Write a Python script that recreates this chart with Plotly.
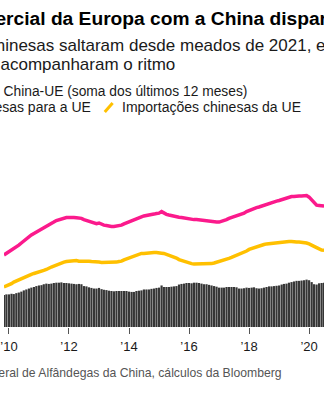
import numpy as np
import pandas as pd
import plotly.graph_objects as go

# ---------------- data (USD bn, 12-month rolling sums) ----------------
START_MONTH = "2009-11-01"

exports_bn = [
    234, 239, 244, 249, 253, 260, 266, 273, 280, 286, 292, 299,
    304, 309, 314, 318, 323, 328, 332, 336, 341, 346, 349, 353,
    354, 356, 356, 357, 356, 355, 354, 353, 349, 346, 343, 340,
    338, 336, 338, 333, 331, 330, 328, 327, 327, 328, 330, 331,
    335, 338, 341, 343, 346, 351, 354, 358, 361, 362, 364, 366,
    367, 369, 370, 375, 369, 366, 364, 362, 359, 357, 357, 356,
    354, 353, 351, 348, 349, 349, 348, 346, 344, 344, 343, 341,
    341, 341, 341, 343, 346, 349, 353, 356, 359, 361, 362, 366,
    370, 375, 379, 383, 387, 388, 390, 393, 396, 400, 403, 405,
    408, 409, 411, 414, 416, 419, 422, 424, 424, 426, 426, 426,
    427, 427, 422, 413, 401, 396, 395, 393, 393,
]

imports_bn = [
    130, 133, 138, 141, 146, 150, 154, 158, 161, 164, 167, 171,
    174, 176, 179, 182, 184, 187, 192, 195, 198, 202, 205, 208,
    211, 213, 214, 216, 216, 216, 214, 214, 216, 214, 214, 213,
    213, 211, 211, 210, 210, 210, 210, 210, 211, 211, 213, 214,
    218, 221, 226, 229, 232, 234, 236, 239, 239, 240, 242, 242,
    242, 242, 242, 240, 239, 236, 234, 231, 227, 224, 219, 216,
    213, 210, 208, 206, 205, 205, 205, 205, 205, 205, 206, 206,
    208, 210, 213, 215, 218, 219, 223, 226, 229, 232, 237, 241,
    244, 247, 252, 255, 258, 262, 265, 267, 268, 270, 271, 273,
    275, 275, 276, 276, 276, 278, 278, 278, 276, 276, 276, 275,
    275, 273, 270, 267, 262, 258, 253, 250, 249,
]

tick_years = [2010, 2012, 2014, 2016, 2018, 2020]
tick_labels = ["\u201910", "\u201912", "\u201914", "\u201916", "\u201918", "\u201920"]

TITLE = "Déficit comercial da Europa com a China dispara"
SUB_1 = "Exportações chinesas saltaram desde meados de 2021, e as importações"
SUB_2 = "europeias não acompanharam o ritmo"
LEG_BAL = "Balança comercial China-UE (soma dos últimos 12 meses)"
LEG_EXP = "Exportações chinesas para a UE"
LEG_IMP = "Importações chinesas da UE"
SOURCE = "Fonte: Administração Geral de Alfândegas da China, cálculos da Bloomberg"

# ---------------- derived ----------------
months = pd.date_range(START_MONTH, periods=len(exports_bn), freq="MS")
balance_bn = np.array(exports_bn) - np.array(imports_bn)

# ---------------- layout constants ----------------
W, H = 324, 400
PLOT_TOP, PLOT_BOTTOM = 110, 327
BN_PER_PX = 3.25
Y_MAX = (PLOT_BOTTOM - PLOT_TOP) * BN_PER_PX

PINK = "#fb1a8c"
YELLOW = "#ffc000"
BAR = "#363636"
FONT = "Liberation Sans, Arial, sans-serif"


def px_x(x):
    return x / W


def px_y(y):
    return (PLOT_BOTTOM - y) / (PLOT_BOTTOM - PLOT_TOP)


fig = go.Figure()
fig.add_trace(go.Bar(x=months, y=balance_bn, marker=dict(color=BAR, line=dict(width=0)),
                     name="Balança", showlegend=False))
fig.add_trace(go.Scatter(x=months, y=imports_bn, mode="lines",
                         line=dict(color=YELLOW, width=3.5), showlegend=False))
fig.add_trace(go.Scatter(x=months, y=exports_bn, mode="lines",
                         line=dict(color=PINK, width=3.5), showlegend=False))

annotations = [
    dict(text="<b>" + TITLE + "</b>", x=px_x(-115.5), y=px_y(18), xanchor="left", yanchor="middle",
         font=dict(size=19.2, color="#000000", family=FONT)),
    dict(text=SUB_1, x=px_x(-119), y=px_y(46), xanchor="left", yanchor="middle",
         font=dict(size=17, color="#1a1a1a", family=FONT)),
    dict(text=SUB_2, x=px_x(-119), y=px_y(65), xanchor="left", yanchor="middle",
         font=dict(size=17, color="#1a1a1a", family=FONT)),
    dict(text=LEG_BAL, x=px_x(248), y=px_y(91), xanchor="right", yanchor="middle",
         font=dict(size=13.8, color="#1a1a1a", family=FONT)),
    dict(text=LEG_EXP, x=px_x(90), y=px_y(107), xanchor="right", yanchor="middle",
         font=dict(size=14, color="#1a1a1a", family=FONT)),
    dict(text=LEG_IMP, x=px_x(117), y=px_y(107), xanchor="left", yanchor="middle",
         font=dict(size=14, color="#1a1a1a", family=FONT)),
    dict(text=SOURCE, x=px_x(284), y=px_y(373), xanchor="right", yanchor="middle",
         font=dict(size=12.2, color="#555555", family=FONT)),
]
for a in annotations:
    a.update(xref="paper", yref="paper", showarrow=False)

shapes = [
    dict(type="line", xref="paper", yref="paper",
         x0=px_x(102), y0=px_y(112), x1=px_x(110), y1=px_y(103),
         line=dict(color=YELLOW, width=3)),
]

fig.update_layout(
    width=W, height=H,
    margin=dict(l=0, r=0, t=PLOT_TOP, b=H - PLOT_BOTTOM, pad=0),
    paper_bgcolor="white", plot_bgcolor="white",
    bargap=0.05,
    font=dict(family=FONT, color="#1a1a1a"),
    annotations=annotations,
    shapes=shapes,
    xaxis=dict(
        range=["2009-11-02", "2020-06-30"],
        tickvals=[f"{y}-01-01" for y in tick_years],
        ticktext=tick_labels,
        ticks="outside", ticklen=6, tickcolor="#555555", tickwidth=1,
        ticklabeloverflow="allow", ticklabelstandoff=1,
        tickfont=dict(size=13, color="#1a1a1a", family=FONT),
        showgrid=False, zeroline=False, showline=False,
    ),
    yaxis=dict(range=[0, Y_MAX], visible=False, showgrid=False, zeroline=False),
)

fig.write_html("out.html")
